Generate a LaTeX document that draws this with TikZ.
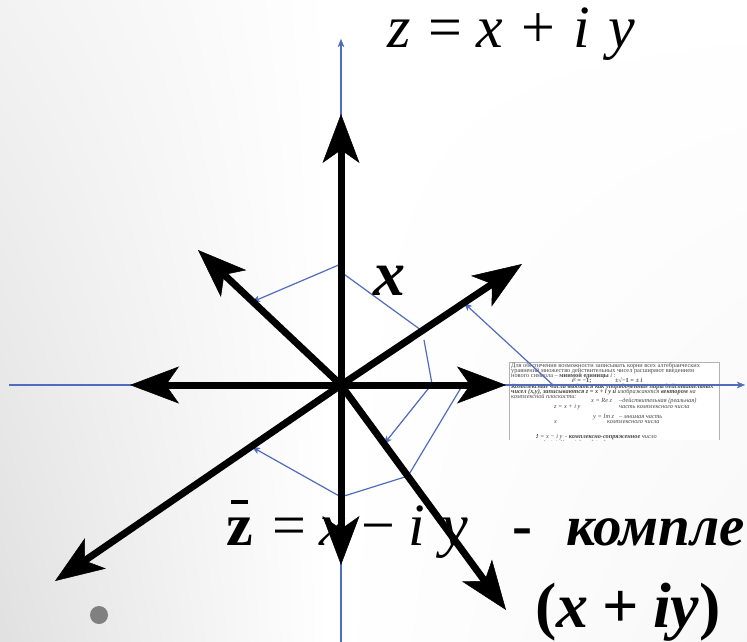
\documentclass[tikz,border=0pt]{standalone}
\usepackage{fontspec}
\setmainfont{Liberation Serif}
\usetikzlibrary{arrows.meta,shadings}
\definecolor{axisblue}{RGB}{80,108,188}
\definecolor{dotgray}{RGB}{128,128,128}
\newsavebox\zbox
\newcommand{\zbarof}[1]{\sbox\zbox{#1}\rlap{\hbox to\wd\zbox{\hss\rule[0.68em]{0.62\wd\zbox}{0.065em}\hss}}\usebox\zbox}
\tikzset{
  thickarrow/.style={line width=7pt, draw=black, -{Stealth[length=49pt,width=37pt,inset=13pt,line width=0.5pt]}},
  bluelink/.style={draw=axisblue, line width=1.2pt},
  bluearrow/.style={bluelink, -{Stealth[length=8pt,width=6.5pt,inset=2pt,line width=0.3pt]}},
  boxtext/.style={anchor=base west, inner sep=0, text=black!72, font=\fontsize{6.3}{6}\selectfont},
  bigtext/.style={anchor=base west, inner sep=0, text=black},
}
\begin{document}
\begin{tikzpicture}[x=1pt,y=-1pt]
\useasboundingbox (0,0) rectangle (747,642);
% background
\fill[white] (0,0) rectangle (747,642);
\shade[upper left=black!5, lower left=black!12, upper right=white, lower right=white] (0,0) rectangle (330,642);
\shade[upper left=white, lower left=white, upper right=white, lower right=black!3] (330,0) rectangle (747,642);

% coordinates
\coordinate (O) at (341,385);
\coordinate (tN) at (341,114);
\coordinate (tS) at (341,565);
\coordinate (tW) at (130,385);
\coordinate (tE) at (506,385);
\coordinate (tNE) at (522,264);
\coordinate (tSW) at (55,581);
\coordinate (tSE) at (506,610);
\coordinate (tNW) at (198,250);
\coordinate (vb) at (341,642);
\coordinate (vt) at (341,39);
\coordinate (hl) at (9,385);
\coordinate (hr) at (745,385);

% small text box
\fill[white] (509,362) rectangle (719,440);
\draw[gray!60, line width=0.6pt] (509,440) -- (509,362) -- (719,362) -- (719,440);
\begin{scope}
\clip (509,362) rectangle (719,440);
\node[boxtext] (r1) at (511,367) {Для обеспечения возможности записывать корни всех алгебраических};
\node[boxtext] (r2) at (511,372) {уравнений множество действительных чисел расширяют введением};
\node[boxtext] (r3) at (511,377) {нового символа – \textbf{мнимой единицы} \textit{i} :};
\node[boxtext] (r4a) at (572,382.5) {\textbf{\textit{i}² = −1;}};
\node[boxtext] (r4b) at (615,382.5) {\textbf{±√−1 = ± \textit{i}}};
\node[boxtext] (r5) at (511,388) {\textbf{\textit{Комплексные числа вводятся как упорядоченные пары действительных}}};
\node[boxtext] (r6) at (511,393) {\textit{\textbf{чисел (x,y), записываются  z = x + i y  и} изображаются \textbf{вектором} на}};
\node[boxtext] (r7) at (511,398) {\textit{комплексной плоскости:}};
\node[boxtext] (r8a) at (591,402) {\textit{x = Re z}};
\node[boxtext] (r8b) at (619,402) {\textit{–действительная (реальная)}};
\node[boxtext] (r9a) at (554,408) {\textit{z = x + i y}};
\node[boxtext] (r9b) at (619,408) {\textit{часть комплексного числа}};
\node[boxtext] (r10a) at (593,418) {\textit{y = Im z}};
\node[boxtext] (r10b) at (619,418) {\textit{– мнимая часть}};
\node[boxtext] (r11a) at (554,423) {\textit{x}};
\node[boxtext] (r11b) at (607,423) {\textit{комплексного числа}};
\node[boxtext] (r12a) at (536,438.5) {\textit{\zbarof{z} = x − i y}};
\node[boxtext] (r12b) at (565,438.5) {\textit{-  \textbf{комплексно-сопряженное} число}};
\node[boxtext] (r13) at (543,444) {\textit{(x + iy)(x − iy) = x² + y²}};
\end{scope}

% thin blue axes
\draw[bluearrow] (vb) -- (vt);
\draw[bluearrow] (hl) -- (hr);

% blue connectors
\coordinate (a1) at (341,264); \coordinate (a2) at (252,302);
\coordinate (b1) at (341,272); \coordinate (b2) at (425,333);
\coordinate (c1) at (424,340); \coordinate (c2) at (432,384); \coordinate (c3) at (384,444);
\coordinate (d1) at (462,386); \coordinate (d2) at (408,476); \coordinate (d3) at (341,497); \coordinate (d4) at (252,447);
\coordinate (e1) at (553,385); \coordinate (e2) at (464,303);
\draw[bluearrow] (a1) -- (a2);
\draw[bluelink] (b1) -- (b2);
\draw[bluearrow] (c1) -- (c2) -- (c3);
\draw[bluearrow] (d1) -- (d2) -- (d3) -- (d4);
\draw[bluearrow] (e1) -- (e2);

% texts
\node[bigtext, font=\fontsize{60}{60}\selectfont] (ztop) at (387,48)
  {\itshape z\hspace{18pt}\upshape=\hspace{14pt}\itshape x\hspace{18pt}\upshape+\hspace{19pt}\itshape i\hspace{18pt}y};
\node[bigtext, font=\fontsize{64}{64}\selectfont\bfseries\itshape] (xlab) at (373,295) {x};
\node[bigtext, font=\fontsize{60}{60}\selectfont] (zbot) at (226,545)
  {\zbarof{\bfseries z}\hspace{20pt}=\hspace{13pt}\textit{x}\hspace{15pt}−\hspace{13pt}\textit{i}\hspace{17pt}\textit{y}\hspace{44pt}\textbf{-}\hspace{34pt}{\fontsize{57}{57}\selectfont\bfseries\itshape компле}};
\node[bigtext, font=\fontsize{64}{64}\selectfont\bfseries] (xiy) at (535,627)
  {(\textit{x}\hspace{0.22em}+\hspace{0.22em}\textit{iy})};

% thick arrows
\draw[thickarrow] (O) -- (tN);
\draw[thickarrow] (O) -- (tS);
\draw[thickarrow] (O) -- (tW);
\draw[thickarrow] (O) -- (tE);
\draw[thickarrow] (O) -- (tNE);
\draw[thickarrow] (O) -- (tSW);
\draw[thickarrow] (O) -- (tSE);
\draw[thickarrow] (O) -- (tNW);

% bullet dot
\fill[dotgray] (99,615) circle[radius=9pt];
\end{tikzpicture}
\end{document}
